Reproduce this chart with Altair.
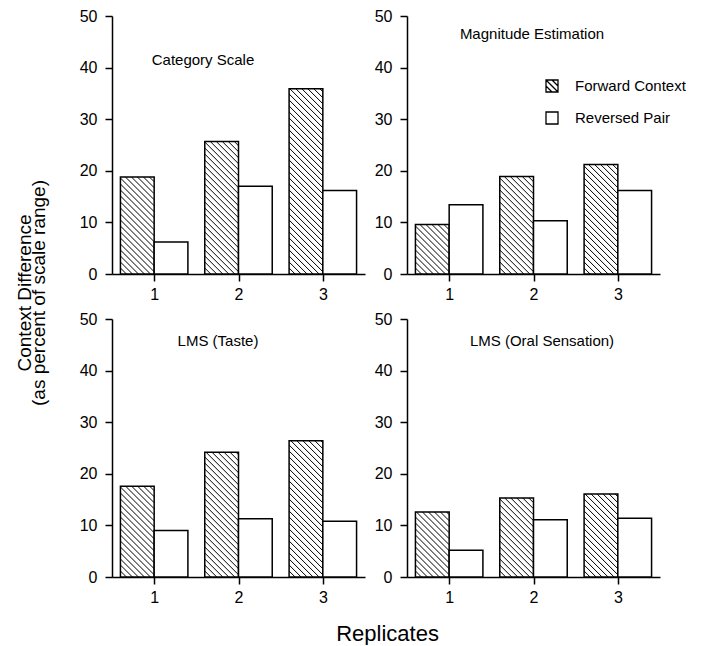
import altair as alt
import pandas as pd

FONT = "Liberation Sans"

# ---------------- data ----------------
panels = ["Category Scale", "Magnitude Estimation", "LMS (Taste)", "LMS (Oral Sensation)"]
replicates = [1, 2, 3]
series = ["Forward Context", "Reversed Pair"]

category_forward = [18.8, 25.7, 35.9]
category_reversed = [6.2, 17.0, 16.2]
magnitude_forward = [9.6, 18.9, 21.2]
magnitude_reversed = [13.4, 10.3, 16.2]
lms_taste_forward = [17.6, 24.2, 26.4]
lms_taste_reversed = [9.0, 11.3, 10.8]
lms_oral_forward = [12.6, 15.3, 16.1]
lms_oral_reversed = [5.2, 11.1, 11.4]

y_ticks = [0, 10, 20, 30, 40, 50]
y_title = "Context Difference\n(as percent of scale range)"
x_title = "Replicates"

# ---------------- geometry / style ----------------
W, H = 253, 258
XS = W / 3.0          # px per replicate unit
YS = H / 50.0         # px per value unit
BAR = 0.4             # bar width in replicate units
STEP = 6.0            # hatch spacing in px

HATCH_SQ = "M-1,-1H1V1H-1Z M-1,-1L1,1 M0,-1L1,0 M-1,0L0,1"
PLAIN_SQ = "M-1,-1H1V1H-1Z"


def hatch_segments(x0, value):
    w = BAR * XS
    h = value * YS
    segs = []
    c = STEP
    while c < w + h:
        xa = max(0.0, c - h)
        xb = min(w, c)
        if xb > xa:
            segs.append(dict(hx=x0 + xa / XS, hy=(c - xa) / YS,
                             hx2=x0 + xb / XS, hy2=(c - xb) / YS))
        c += STEP
    return segs


xscale = alt.Scale(domain=[0.5, 3.5], nice=False, zero=False)
yscale = alt.Scale(domain=[0, 50], nice=False)
xaxis = alt.Axis(values=replicates, format="d", title=None, labelFlush=False, grid=False,
                 labelPadding=5)
yaxis = alt.Axis(values=y_ticks, format="d", title=None, grid=False, labelPadding=8)


def panel(name, fwd, rev, tx, ty, legend=False):
    rows, hrows = [], []
    for r, f, v in zip(replicates, fwd, rev):
        rows.append(dict(series=series[0], rep=r, value=f, x0=r - BAR, x1=r, base=0))
        rows.append(dict(series=series[1], rep=r, value=v, x0=r, x1=r + BAR, base=0))
        hrows += hatch_segments(r - BAR, f)
    bdf = pd.DataFrame(rows)
    hdf = pd.DataFrame(hrows)

    bars = alt.Chart(bdf).mark_rect(fill="white", stroke="black", strokeWidth=1.5).encode(
        x=alt.X("x0:Q", scale=xscale, axis=xaxis),
        x2="x1:Q",
        y=alt.Y("value:Q", scale=yscale, axis=yaxis),
        y2="base:Q",
    )
    hatch = alt.Chart(hdf).mark_rule(color="black", strokeWidth=1).encode(
        x=alt.X("hx:Q", scale=xscale, axis=xaxis),
        x2="hx2:Q",
        y=alt.Y("hy:Q", scale=yscale, axis=yaxis),
        y2="hy2:Q",
    )
    title = alt.Chart(pd.DataFrame({"t": [name]})).mark_text(
        font=FONT, fontSize=15, color="black", align="center", baseline="middle"
    ).encode(x=alt.value(tx), y=alt.value(ty), text="t:N")

    layers = [bars, hatch, title]
    if legend:
        shapes = [HATCH_SQ, PLAIN_SQ]
        for i, s in enumerate(series):
            ldf = pd.DataFrame({"series": [s]})
            layers.append(alt.Chart(ldf).mark_point(
                shape=shapes[i], size=144, filled=False, stroke="black", strokeWidth=1.3, opacity=1
            ).encode(x=alt.value(145), y=alt.value(70 + 32 * i)))
            layers.append(alt.Chart(ldf).mark_text(
                font=FONT, fontSize=15, color="black", align="left", baseline="middle"
            ).encode(x=alt.value(168), y=alt.value(70 + 32 * i), text="series:N"))
    return alt.layer(*layers).properties(width=W, height=H)


p1 = panel(panels[0], category_forward, category_reversed, 91, 44)
p2 = panel(panels[1], magnitude_forward, magnitude_reversed, 125, 18, legend=True)
p3 = panel(panels[2], lms_taste_forward, lms_taste_reversed, 106, 22)
p4 = panel(panels[3], lms_oral_forward, lms_oral_reversed, 135, 22)

grid = alt.vconcat(
    alt.hconcat(p1, p2, spacing=9),
    alt.hconcat(p3, p4, spacing=9),
    spacing=9,
    title=alt.TitleParams(x_title, orient="bottom", anchor="middle", fontSize=22,
                          font=FONT, fontWeight="normal", color="black", offset=19, dx=5),
)

ytitle = alt.Chart(pd.DataFrame({"t": [y_title]})).mark_text(
    angle=270, lineBreak="\n", fontSize=19, lineHeight=14, font=FONT, color="black",
    align="center", baseline="middle"
).encode(x=alt.value(12), y=alt.value(277), text="t:N").properties(width=60, height=560)

chart = alt.hconcat(ytitle, grid, spacing=6).properties(
    padding={"left": 5, "top": 0, "right": 0, "bottom": 0}
).configure_view(stroke=None).configure_axis(
    domain=True, ticks=True, labels=True,
    domainColor="black", domainWidth=1.5, tickColor="black", tickWidth=1.5, tickSize=7,
    labelColor="black", labelFont=FONT, labelFontSize=16, grid=False,
)

chart.save("out.html", embed_options={"renderer": "svg", "actions": False})
